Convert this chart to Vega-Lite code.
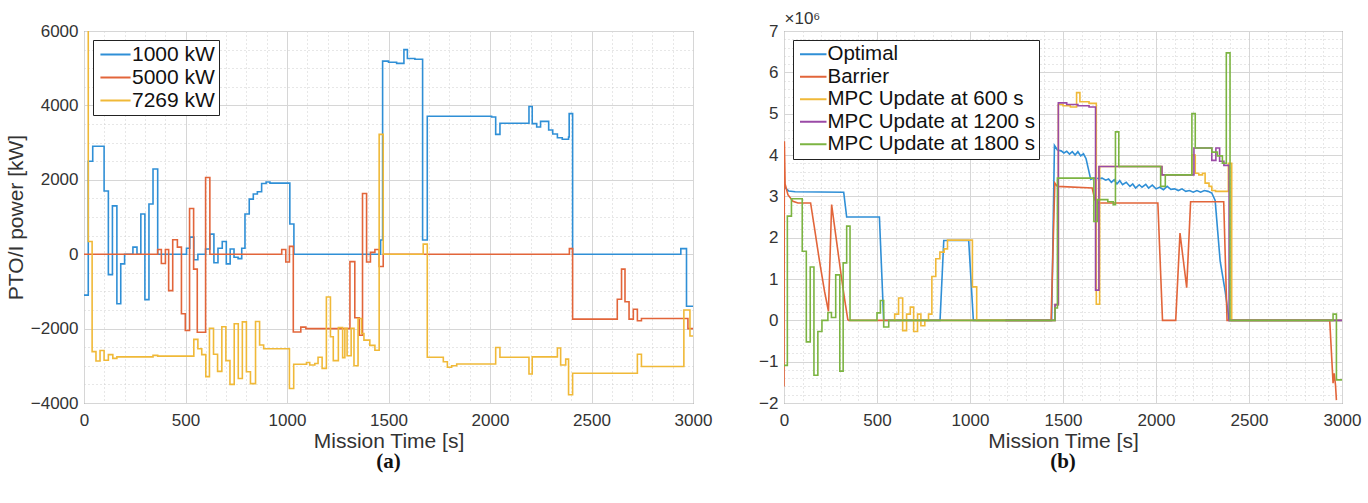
{
  "$schema": "https://vega.github.io/schema/vega-lite/v6.json",
  "background": "white",
  "padding": {"left": 4, "top": 8, "right": 0, "bottom": 0},
  "config": {
    "font": "Liberation Sans",
    "view": {"stroke": "#5a5a5a", "strokeWidth": 1},
    "axis": {
      "labelFontSize": 17, "labelColor": "#333333", "labelPadding": 6,
      "titleFontSize": 21, "titleFontWeight": "normal", "titleColor": "#333333",
      "ticks": false, "domain": false, "labelOverlap": false, "labelFlush": false, "labelBound": false,
      "gridWidth": 1
    },
    "legend": {
      "orient": "top-left", "strokeColor": "#222222", "fillColor": "white", "padding": 4,
      "symbolType": "M-3,0H3", "symbolStrokeWidth": 2, "labelColor": "#111111", "title": null, "labelLimit": 400
    }
  },
  "spacing": 45,
  "resolve": {"scale": {"x": "independent", "y": "independent", "color": "independent"}, "legend": {"color": "independent"}},
  "hconcat": [
    {
      "width": 609, "height": 372,
      "title": {"text": "(a)", "orient": "bottom", "font": "Liberation Serif", "fontSize": 21, "fontWeight": "bold", "color": "#111111", "offset": 0},
      "data": {"values": [
        {"t":0,"p":-1100,"s":"1000 kW"},{"t":21,"p":2500,"s":"1000 kW"},{"t":43,"p":2900,"s":"1000 kW"},{"t":99,"p":1700,"s":"1000 kW"},{"t":120,"p":-550,"s":"1000 kW"},{"t":140,"p":1300,"s":"1000 kW"},{"t":162,"p":-1330,"s":"1000 kW"},{"t":181,"p":-260,"s":"1000 kW"},{"t":200,"p":0,"s":"1000 kW"},{"t":241,"p":190,"s":"1000 kW"},{"t":261,"p":0,"s":"1000 kW"},{"t":280,"p":1080,"s":"1000 kW"},{"t":300,"p":-1220,"s":"1000 kW"},{"t":320,"p":1350,"s":"1000 kW"},{"t":340,"p":2290,"s":"1000 kW"},{"t":363,"p":0,"s":"1000 kW"},{"t":505,"p":160,"s":"1000 kW"},{"t":521,"p":460,"s":"1000 kW"},{"t":541,"p":-150,"s":"1000 kW"},{"t":561,"p":0,"s":"1000 kW"},{"t":599,"p":140,"s":"1000 kW"},{"t":620,"p":540,"s":"1000 kW"},{"t":640,"p":-230,"s":"1000 kW"},{"t":660,"p":160,"s":"1000 kW"},{"t":681,"p":340,"s":"1000 kW"},{"t":701,"p":-260,"s":"1000 kW"},{"t":720,"p":140,"s":"1000 kW"},{"t":739,"p":-80,"s":"1000 kW"},{"t":759,"p":-120,"s":"1000 kW"},{"t":777,"p":160,"s":"1000 kW"},{"t":793,"p":1080,"s":"1000 kW"},{"t":814,"p":1480,"s":"1000 kW"},{"t":834,"p":1620,"s":"1000 kW"},{"t":854,"p":1680,"s":"1000 kW"},{"t":875,"p":1900,"s":"1000 kW"},{"t":897,"p":1940,"s":"1000 kW"},{"t":916,"p":1910,"s":"1000 kW"},{"t":1014,"p":810,"s":"1000 kW"},{"t":1034,"p":0,"s":"1000 kW"},{"t":1461,"p":380,"s":"1000 kW"},{"t":1471,"p":5190,"s":"1000 kW"},{"t":1500,"p":5160,"s":"1000 kW"},{"t":1540,"p":5130,"s":"1000 kW"},{"t":1576,"p":5500,"s":"1000 kW"},{"t":1593,"p":5260,"s":"1000 kW"},{"t":1630,"p":5240,"s":"1000 kW"},{"t":1668,"p":380,"s":"1000 kW"},{"t":1691,"p":3710,"s":"1000 kW"},{"t":2008,"p":3690,"s":"1000 kW"},{"t":2028,"p":3220,"s":"1000 kW"},{"t":2049,"p":3520,"s":"1000 kW"},{"t":2192,"p":3970,"s":"1000 kW"},{"t":2208,"p":3510,"s":"1000 kW"},{"t":2230,"p":3420,"s":"1000 kW"},{"t":2249,"p":3570,"s":"1000 kW"},{"t":2289,"p":3340,"s":"1000 kW"},{"t":2309,"p":3230,"s":"1000 kW"},{"t":2332,"p":3130,"s":"1000 kW"},{"t":2356,"p":3090,"s":"1000 kW"},{"t":2387,"p":3150,"s":"1000 kW"},{"t":2390,"p":3780,"s":"1000 kW"},{"t":2407,"p":0,"s":"1000 kW"},{"t":2940,"p":150,"s":"1000 kW"},{"t":2968,"p":-1400,"s":"1000 kW"},{"t":3000,"p":-1400,"s":"1000 kW"},
        {"t":0,"p":0,"s":"5000 kW"},{"t":363,"p":125,"s":"5000 kW"},{"t":381,"p":-250,"s":"5000 kW"},{"t":401,"p":125,"s":"5000 kW"},{"t":417,"p":-980,"s":"5000 kW"},{"t":437,"p":390,"s":"5000 kW"},{"t":460,"p":190,"s":"5000 kW"},{"t":480,"p":-1600,"s":"5000 kW"},{"t":499,"p":-2050,"s":"5000 kW"},{"t":520,"p":1230,"s":"5000 kW"},{"t":540,"p":-400,"s":"5000 kW"},{"t":558,"p":-2100,"s":"5000 kW"},{"t":599,"p":2060,"s":"5000 kW"},{"t":620,"p":0,"s":"5000 kW"},{"t":974,"p":125,"s":"5000 kW"},{"t":994,"p":-210,"s":"5000 kW"},{"t":1012,"p":210,"s":"5000 kW"},{"t":1031,"p":-2090,"s":"5000 kW"},{"t":1068,"p":-1960,"s":"5000 kW"},{"t":1093,"p":-2000,"s":"5000 kW"},{"t":1310,"p":-200,"s":"5000 kW"},{"t":1334,"p":-1710,"s":"5000 kW"},{"t":1356,"p":-2180,"s":"5000 kW"},{"t":1372,"p":1630,"s":"5000 kW"},{"t":1392,"p":-210,"s":"5000 kW"},{"t":1411,"p":50,"s":"5000 kW"},{"t":1433,"p":125,"s":"5000 kW"},{"t":1454,"p":-330,"s":"5000 kW"},{"t":1474,"p":0,"s":"5000 kW"},{"t":2391,"p":150,"s":"5000 kW"},{"t":2407,"p":-1745,"s":"5000 kW"},{"t":2627,"p":-1210,"s":"5000 kW"},{"t":2648,"p":-400,"s":"5000 kW"},{"t":2665,"p":-1280,"s":"5000 kW"},{"t":2685,"p":-1745,"s":"5000 kW"},{"t":2706,"p":-1480,"s":"5000 kW"},{"t":2726,"p":-1790,"s":"5000 kW"},{"t":2746,"p":-1730,"s":"5000 kW"},{"t":2975,"p":-2000,"s":"5000 kW"},{"t":3000,"p":-2000,"s":"5000 kW"},
        {"t":0,"p":7269,"s":"7269 kW"},{"t":21,"p":340,"s":"7269 kW"},{"t":40,"p":-2620,"s":"7269 kW"},{"t":59,"p":-2870,"s":"7269 kW"},{"t":79,"p":-2590,"s":"7269 kW"},{"t":99,"p":-2850,"s":"7269 kW"},{"t":120,"p":-2700,"s":"7269 kW"},{"t":142,"p":-2800,"s":"7269 kW"},{"t":162,"p":-2760,"s":"7269 kW"},{"t":340,"p":-2720,"s":"7269 kW"},{"t":363,"p":-2740,"s":"7269 kW"},{"t":541,"p":-2290,"s":"7269 kW"},{"t":561,"p":-2540,"s":"7269 kW"},{"t":580,"p":-2700,"s":"7269 kW"},{"t":600,"p":-3290,"s":"7269 kW"},{"t":618,"p":-1990,"s":"7269 kW"},{"t":638,"p":-2690,"s":"7269 kW"},{"t":658,"p":-3150,"s":"7269 kW"},{"t":679,"p":-1950,"s":"7269 kW"},{"t":699,"p":-2860,"s":"7269 kW"},{"t":719,"p":-3500,"s":"7269 kW"},{"t":740,"p":-1870,"s":"7269 kW"},{"t":760,"p":-3340,"s":"7269 kW"},{"t":780,"p":-1820,"s":"7269 kW"},{"t":800,"p":-3160,"s":"7269 kW"},{"t":820,"p":-3480,"s":"7269 kW"},{"t":845,"p":-1810,"s":"7269 kW"},{"t":865,"p":-2440,"s":"7269 kW"},{"t":885,"p":-2540,"s":"7269 kW"},{"t":1012,"p":-3610,"s":"7269 kW"},{"t":1033,"p":-2960,"s":"7269 kW"},{"t":1096,"p":-2910,"s":"7269 kW"},{"t":1112,"p":-2980,"s":"7269 kW"},{"t":1137,"p":-2940,"s":"7269 kW"},{"t":1153,"p":-2770,"s":"7269 kW"},{"t":1173,"p":-3070,"s":"7269 kW"},{"t":1194,"p":-1150,"s":"7269 kW"},{"t":1214,"p":-2220,"s":"7269 kW"},{"t":1228,"p":-2860,"s":"7269 kW"},{"t":1253,"p":-1970,"s":"7269 kW"},{"t":1274,"p":-2780,"s":"7269 kW"},{"t":1285,"p":-1990,"s":"7269 kW"},{"t":1296,"p":-2730,"s":"7269 kW"},{"t":1316,"p":-1990,"s":"7269 kW"},{"t":1330,"p":-3000,"s":"7269 kW"},{"t":1350,"p":-1730,"s":"7269 kW"},{"t":1367,"p":-2130,"s":"7269 kW"},{"t":1379,"p":-2310,"s":"7269 kW"},{"t":1408,"p":-2450,"s":"7269 kW"},{"t":1433,"p":-2580,"s":"7269 kW"},{"t":1454,"p":3220,"s":"7269 kW"},{"t":1474,"p":0,"s":"7269 kW"},{"t":1671,"p":270,"s":"7269 kW"},{"t":1691,"p":-2770,"s":"7269 kW"},{"t":1770,"p":-2890,"s":"7269 kW"},{"t":1790,"p":-3040,"s":"7269 kW"},{"t":1811,"p":-3000,"s":"7269 kW"},{"t":1836,"p":-2950,"s":"7269 kW"},{"t":2028,"p":-2510,"s":"7269 kW"},{"t":2049,"p":-2770,"s":"7269 kW"},{"t":2192,"p":-3220,"s":"7269 kW"},{"t":2208,"p":-2760,"s":"7269 kW"},{"t":2332,"p":-2520,"s":"7269 kW"},{"t":2348,"p":-2980,"s":"7269 kW"},{"t":2373,"p":-2820,"s":"7269 kW"},{"t":2387,"p":-3780,"s":"7269 kW"},{"t":2407,"p":-3200,"s":"7269 kW"},{"t":2726,"p":-2690,"s":"7269 kW"},{"t":2746,"p":-3020,"s":"7269 kW"},{"t":2955,"p":-1500,"s":"7269 kW"},{"t":2985,"p":-2200,"s":"7269 kW"},{"t":3000,"p":-2200,"s":"7269 kW"}
      ]},
      "mark": {"type": "line", "interpolate": "step-after", "strokeWidth": 1.6, "clip": true},
      "encoding": {
        "x": {"field": "t", "type": "quantitative", "scale": {"domain": [0, 3000], "nice": false},
          "axis": {"title": "Mission Time [s]", "titlePadding": 2, "labelPadding": 9, "format": "d",
            "values": [0,100,200,300,400,500,600,700,800,900,1000,1100,1200,1300,1400,1500,1600,1700,1800,1900,2000,2100,2200,2300,2400,2500,2600,2700,2800,2900,3000],
            "labelExpr": "datum.value % 500 === 0 ? datum.label : ''",
            "gridColor": {"condition": {"test": "datum.value % 500 === 0", "value": "#d6d6d6"}, "value": "#cfcfcf"},
            "gridDash": {"condition": {"test": "datum.value % 500 === 0", "value": []}, "value": [1, 3]}}},
        "y": {"field": "p", "type": "quantitative", "scale": {"domain": [-4000, 6000], "nice": false},
          "axis": {"title": "PTO/I power [kW]", "titlePadding": 4, "format": "d",
            "values": [-4000,-3500,-3000,-2500,-2000,-1500,-1000,-500,0,500,1000,1500,2000,2500,3000,3500,4000,4500,5000,5500,6000],
            "labelExpr": "datum.value % 2000 === 0 ? datum.label : ''",
            "gridColor": {"condition": {"test": "datum.value % 2000 === 0", "value": "#d6d6d6"}, "value": "#cfcfcf"},
            "gridDash": {"condition": {"test": "datum.value % 2000 === 0", "value": []}, "value": [1, 3]}}},
        "color": {"field": "s", "type": "nominal",
          "scale": {"domain": ["1000 kW", "5000 kW", "7269 kW"], "range": ["#2f8fd6", "#e2653a", "#f0b938"]},
          "legend": {"labelFontSize": 21, "symbolSize": 101, "symbolOffset": 8, "offset": 9, "rowPadding": 1, "labelOffset": 6}}
      }
    },
    {
      "width": 558, "height": 372,
      "title": {"text": "(b)", "orient": "bottom", "font": "Liberation Serif", "fontSize": 21, "fontWeight": "bold", "color": "#111111", "offset": 0},
      "data": {"values": [
        {"t":0,"v":3.3,"s":"Optimal"},{"t":8,"v":3.2,"s":"Optimal"},{"t":25,"v":3.13,"s":"Optimal"},{"t":60,"v":3.11,"s":"Optimal"},{"t":321,"v":3.1,"s":"Optimal"},{"t":337,"v":2.5,"s":"Optimal"},{"t":513,"v":2.5,"s":"Optimal"},{"t":536,"v":0,"s":"Optimal"},{"t":839,"v":0,"s":"Optimal"},{"t":859,"v":1.93,"s":"Optimal"},{"t":993,"v":1.93,"s":"Optimal"},{"t":1018,"v":0,"s":"Optimal"},{"t":1439,"v":0,"s":"Optimal"},{"t":1454,"v":4.23,"s":"Optimal"},{"t":1470,"v":4.12,"s":"Optimal"},{"t":1490,"v":4.1,"s":"Optimal"},{"t":1505,"v":4.05,"s":"Optimal"},{"t":1520,"v":4.09,"s":"Optimal"},{"t":1535,"v":4.02,"s":"Optimal"},{"t":1550,"v":4.08,"s":"Optimal"},{"t":1565,"v":4.0,"s":"Optimal"},{"t":1580,"v":4.08,"s":"Optimal"},{"t":1595,"v":3.98,"s":"Optimal"},{"t":1610,"v":4.03,"s":"Optimal"},{"t":1624,"v":3.91,"s":"Optimal"},{"t":1636,"v":3.67,"s":"Optimal"},{"t":1649,"v":3.41,"s":"Optimal"},{"t":1665,"v":3.44,"s":"Optimal"},{"t":1690,"v":3.43,"s":"Optimal"},{"t":1710,"v":3.44,"s":"Optimal"},{"t":1730,"v":3.39,"s":"Optimal"},{"t":1745,"v":3.42,"s":"Optimal"},{"t":1760,"v":3.34,"s":"Optimal"},{"t":1775,"v":3.4,"s":"Optimal"},{"t":1790,"v":3.3,"s":"Optimal"},{"t":1805,"v":3.38,"s":"Optimal"},{"t":1820,"v":3.28,"s":"Optimal"},{"t":1840,"v":3.34,"s":"Optimal"},{"t":1860,"v":3.24,"s":"Optimal"},{"t":1875,"v":3.3,"s":"Optimal"},{"t":1890,"v":3.2,"s":"Optimal"},{"t":1910,"v":3.28,"s":"Optimal"},{"t":1925,"v":3.22,"s":"Optimal"},{"t":1945,"v":3.29,"s":"Optimal"},{"t":1960,"v":3.2,"s":"Optimal"},{"t":1980,"v":3.27,"s":"Optimal"},{"t":2000,"v":3.18,"s":"Optimal"},{"t":2020,"v":3.22,"s":"Optimal"},{"t":2040,"v":3.16,"s":"Optimal"},{"t":2060,"v":3.24,"s":"Optimal"},{"t":2080,"v":3.17,"s":"Optimal"},{"t":2100,"v":3.18,"s":"Optimal"},{"t":2120,"v":3.14,"s":"Optimal"},{"t":2140,"v":3.18,"s":"Optimal"},{"t":2160,"v":3.12,"s":"Optimal"},{"t":2180,"v":3.14,"s":"Optimal"},{"t":2200,"v":3.1,"s":"Optimal"},{"t":2220,"v":3.14,"s":"Optimal"},{"t":2240,"v":3.1,"s":"Optimal"},{"t":2260,"v":3.14,"s":"Optimal"},{"t":2280,"v":3.12,"s":"Optimal"},{"t":2300,"v":3.08,"s":"Optimal"},{"t":2318,"v":2.9,"s":"Optimal"},{"t":2345,"v":1.43,"s":"Optimal"},{"t":2372,"v":0.7,"s":"Optimal"},{"t":2393,"v":0,"s":"Optimal"},{"t":3000,"v":0,"s":"Optimal"},
        {"t":0,"v":-1.6,"s":"Barrier"},{"t":2,"v":4.33,"s":"Barrier"},{"t":6,"v":3.3,"s":"Barrier"},{"t":21,"v":3.04,"s":"Barrier"},{"t":48,"v":2.88,"s":"Barrier"},{"t":75,"v":2.84,"s":"Barrier"},{"t":143,"v":2.84,"s":"Barrier"},{"t":164,"v":2.23,"s":"Barrier"},{"t":191,"v":1.43,"s":"Barrier"},{"t":218,"v":0.7,"s":"Barrier"},{"t":239,"v":0.22,"s":"Barrier"},{"t":256,"v":2.8,"s":"Barrier"},{"t":280,"v":2.0,"s":"Barrier"},{"t":307,"v":1.1,"s":"Barrier"},{"t":325,"v":0.54,"s":"Barrier"},{"t":343,"v":0.02,"s":"Barrier"},{"t":348,"v":0,"s":"Barrier"},{"t":1436,"v":0,"s":"Barrier"},{"t":1456,"v":3.32,"s":"Barrier"},{"t":1470,"v":3.24,"s":"Barrier"},{"t":1657,"v":3.2,"s":"Barrier"},{"t":1671,"v":2.92,"s":"Barrier"},{"t":1684,"v":2.84,"s":"Barrier"},{"t":2010,"v":2.84,"s":"Barrier"},{"t":2035,"v":0,"s":"Barrier"},{"t":2106,"v":0,"s":"Barrier"},{"t":2129,"v":2.11,"s":"Barrier"},{"t":2165,"v":0.79,"s":"Barrier"},{"t":2186,"v":2.87,"s":"Barrier"},{"t":2364,"v":2.87,"s":"Barrier"},{"t":2382,"v":0,"s":"Barrier"},{"t":2934,"v":0,"s":"Barrier"},{"t":2952,"v":-1.52,"s":"Barrier"},{"t":2958,"v":-1.28,"s":"Barrier"},{"t":2965,"v":-1.56,"s":"Barrier"},{"t":2970,"v":-1.93,"s":"Barrier"},
        {"t":590,"v":0,"s":"MPC Update at 600 s"},{"t":595,"v":0.15,"s":"MPC Update at 600 s"},{"t":616,"v":0.54,"s":"MPC Update at 600 s"},{"t":638,"v":-0.25,"s":"MPC Update at 600 s"},{"t":659,"v":0.15,"s":"MPC Update at 600 s"},{"t":679,"v":0.32,"s":"MPC Update at 600 s"},{"t":697,"v":-0.27,"s":"MPC Update at 600 s"},{"t":718,"v":0.15,"s":"MPC Update at 600 s"},{"t":736,"v":-0.13,"s":"MPC Update at 600 s"},{"t":757,"v":0,"s":"MPC Update at 600 s"},{"t":777,"v":0.15,"s":"MPC Update at 600 s"},{"t":795,"v":1.06,"s":"MPC Update at 600 s"},{"t":816,"v":1.49,"s":"MPC Update at 600 s"},{"t":838,"v":1.65,"s":"MPC Update at 600 s"},{"t":861,"v":1.73,"s":"MPC Update at 600 s"},{"t":879,"v":1.94,"s":"MPC Update at 600 s"},{"t":1013,"v":0.81,"s":"MPC Update at 600 s"},{"t":1036,"v":0,"s":"MPC Update at 600 s"},{"t":1457,"v":0.38,"s":"MPC Update at 600 s"},{"t":1475,"v":5.22,"s":"MPC Update at 600 s"},{"t":1500,"v":5.19,"s":"MPC Update at 600 s"},{"t":1540,"v":5.16,"s":"MPC Update at 600 s"},{"t":1573,"v":5.51,"s":"MPC Update at 600 s"},{"t":1591,"v":5.29,"s":"MPC Update at 600 s"},{"t":1640,"v":5.25,"s":"MPC Update at 600 s"},{"t":1679,"v":0.39,"s":"MPC Update at 600 s"},{"t":1697,"v":3.72,"s":"MPC Update at 600 s"},{"t":2032,"v":3.52,"s":"MPC Update at 600 s"},{"t":2193,"v":4.0,"s":"MPC Update at 600 s"},{"t":2211,"v":3.56,"s":"MPC Update at 600 s"},{"t":2230,"v":3.52,"s":"MPC Update at 600 s"},{"t":2250,"v":3.56,"s":"MPC Update at 600 s"},{"t":2264,"v":3.32,"s":"MPC Update at 600 s"},{"t":2285,"v":3.24,"s":"MPC Update at 600 s"},{"t":2300,"v":3.14,"s":"MPC Update at 600 s"},{"t":2320,"v":3.12,"s":"MPC Update at 600 s"},{"t":2389,"v":3.8,"s":"MPC Update at 600 s"},{"t":2407,"v":0,"s":"MPC Update at 600 s"},{"t":3000,"v":0,"s":"MPC Update at 600 s"},
        {"t":1190,"v":0,"s":"MPC Update at 1200 s"},{"t":1457,"v":0.38,"s":"MPC Update at 1200 s"},{"t":1475,"v":5.26,"s":"MPC Update at 1200 s"},{"t":1520,"v":5.22,"s":"MPC Update at 1200 s"},{"t":1580,"v":5.19,"s":"MPC Update at 1200 s"},{"t":1640,"v":5.16,"s":"MPC Update at 1200 s"},{"t":1675,"v":0.73,"s":"MPC Update at 1200 s"},{"t":1693,"v":3.72,"s":"MPC Update at 1200 s"},{"t":2032,"v":3.52,"s":"MPC Update at 1200 s"},{"t":2204,"v":4.17,"s":"MPC Update at 1200 s"},{"t":2300,"v":3.87,"s":"MPC Update at 1200 s"},{"t":2322,"v":4.17,"s":"MPC Update at 1200 s"},{"t":2342,"v":3.85,"s":"MPC Update at 1200 s"},{"t":2365,"v":3.75,"s":"MPC Update at 1200 s"},{"t":2393,"v":0,"s":"MPC Update at 1200 s"},{"t":3000,"v":0,"s":"MPC Update at 1200 s"},
        {"t":0,"v":-1.09,"s":"MPC Update at 1800 s"},{"t":18,"v":2.52,"s":"MPC Update at 1800 s"},{"t":40,"v":2.94,"s":"MPC Update at 1800 s"},{"t":98,"v":1.67,"s":"MPC Update at 1800 s"},{"t":120,"v":-0.52,"s":"MPC Update at 1800 s"},{"t":141,"v":1.29,"s":"MPC Update at 1800 s"},{"t":161,"v":-1.33,"s":"MPC Update at 1800 s"},{"t":182,"v":-0.27,"s":"MPC Update at 1800 s"},{"t":204,"v":0,"s":"MPC Update at 1800 s"},{"t":236,"v":0.19,"s":"MPC Update at 1800 s"},{"t":255,"v":0.07,"s":"MPC Update at 1800 s"},{"t":278,"v":1.1,"s":"MPC Update at 1800 s"},{"t":300,"v":-1.23,"s":"MPC Update at 1800 s"},{"t":318,"v":1.39,"s":"MPC Update at 1800 s"},{"t":337,"v":2.28,"s":"MPC Update at 1800 s"},{"t":355,"v":0,"s":"MPC Update at 1800 s"},{"t":500,"v":0.18,"s":"MPC Update at 1800 s"},{"t":518,"v":0.48,"s":"MPC Update at 1800 s"},{"t":536,"v":-0.16,"s":"MPC Update at 1800 s"},{"t":563,"v":0,"s":"MPC Update at 1800 s"},{"t":1457,"v":0.3,"s":"MPC Update at 1800 s"},{"t":1470,"v":3.44,"s":"MPC Update at 1800 s"},{"t":1666,"v":2.39,"s":"MPC Update at 1800 s"},{"t":1684,"v":2.92,"s":"MPC Update at 1800 s"},{"t":1741,"v":2.87,"s":"MPC Update at 1800 s"},{"t":1770,"v":2.8,"s":"MPC Update at 1800 s"},{"t":1782,"v":4.56,"s":"MPC Update at 1800 s"},{"t":1800,"v":3.72,"s":"MPC Update at 1800 s"},{"t":2025,"v":3.24,"s":"MPC Update at 1800 s"},{"t":2050,"v":3.52,"s":"MPC Update at 1800 s"},{"t":2193,"v":5.0,"s":"MPC Update at 1800 s"},{"t":2211,"v":4.17,"s":"MPC Update at 1800 s"},{"t":2300,"v":4.07,"s":"MPC Update at 1800 s"},{"t":2330,"v":3.98,"s":"MPC Update at 1800 s"},{"t":2357,"v":3.8,"s":"MPC Update at 1800 s"},{"t":2378,"v":6.47,"s":"MPC Update at 1800 s"},{"t":2398,"v":0,"s":"MPC Update at 1800 s"},{"t":2952,"v":0.15,"s":"MPC Update at 1800 s"},{"t":2970,"v":-1.44,"s":"MPC Update at 1800 s"},{"t":3000,"v":-1.44,"s":"MPC Update at 1800 s"}
      ]},
      "encoding": {
        "x": {"field": "t", "type": "quantitative", "scale": {"domain": [0, 3000], "nice": false},
          "axis": {"title": "Mission Time [s]", "titlePadding": 2, "labelPadding": 9, "format": "d",
            "values": [0,100,200,300,400,500,600,700,800,900,1000,1100,1200,1300,1400,1500,1600,1700,1800,1900,2000,2100,2200,2300,2400,2500,2600,2700,2800,2900,3000],
            "labelExpr": "datum.value % 500 === 0 ? datum.label : ''",
            "gridColor": {"condition": {"test": "datum.value % 500 === 0", "value": "#d6d6d6"}, "value": "#cfcfcf"},
            "gridDash": {"condition": {"test": "datum.value % 500 === 0", "value": []}, "value": [1, 3]}}},
        "y": {"field": "v", "type": "quantitative", "scale": {"domain": [-2, 7], "nice": false},
          "axis": {"title": "×10⁶", "titleAngle": 0, "titleAlign": "left", "titleBaseline": "bottom", "titleX": 0, "titleY": -4, "titleFontSize": 17,
            "values": [-2,-1.8,-1.6,-1.4,-1.2,-1,-0.8,-0.6,-0.4,-0.2,0,0.2,0.4,0.6,0.8,1,1.2,1.4,1.6,1.8,2,2.2,2.4,2.6,2.8,3,3.2,3.4,3.6,3.8,4,4.2,4.4,4.6,4.8,5,5.2,5.4,5.6,5.8,6,6.2,6.4,6.6,6.8,7],
            "labelExpr": "abs(datum.value - round(datum.value)) < 0.001 ? format(round(datum.value), 'd') : ''",
            "gridColor": {"condition": {"test": "abs(datum.value - round(datum.value)) < 0.001", "value": "#d6d6d6"}, "value": "#cfcfcf"},
            "gridDash": {"condition": {"test": "abs(datum.value - round(datum.value)) < 0.001", "value": []}, "value": [1, 3]}}},
        "color": {"field": "s", "type": "nominal",
          "scale": {"domain": ["Optimal", "Barrier", "MPC Update at 600 s", "MPC Update at 1200 s", "MPC Update at 1800 s"], "range": ["#2f8fd6", "#e2653a", "#f0b938", "#9a4aa6", "#7cb442"]},
          "legend": {"labelFontSize": 20.5, "symbolSize": 78, "symbolOffset": 6, "offset": 9, "rowPadding": 1.5, "labelOffset": 4}}
      },
      "layer": [
        {"transform": [{"filter": "datum.s === 'Optimal' || datum.s === 'Barrier'"}], "mark": {"type": "line", "interpolate": "linear", "strokeWidth": 1.6, "clip": true}},
        {"transform": [{"filter": "datum.s !== 'Optimal' && datum.s !== 'Barrier'"}], "mark": {"type": "line", "interpolate": "step-after", "strokeWidth": 1.6, "clip": true}}
      ]
    }
  ]
}
